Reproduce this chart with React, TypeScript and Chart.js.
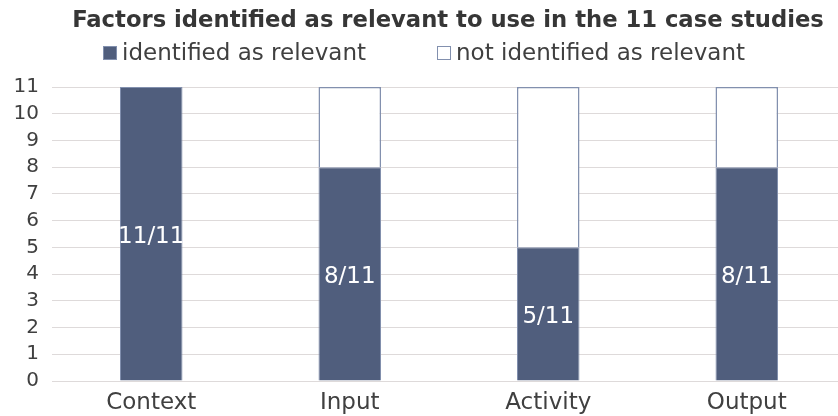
import React, { useEffect, useRef } from "react";
import { Chart, registerables } from "chart.js";

Chart.register(...registerables);

const titleText = "Factors identified as relevant to use in the 11 case studies";
const categories = ["Context", "Input", "Activity", "Output"];
const seriesNames = ["identified as relevant", "not identified as relevant"];
const identified = [11, 8, 5, 8];
const notIdentified = [0, 3, 6, 3];
const caseTotal = 11;
const yMax = 11;

const FONT = "'DejaVu Sans', Verdana, sans-serif";
const DARK = "#505e7d";
const EDGE = "#8290ae";
const TEXT = "#404040";

const headerPlugin = {
  id: "header",
  afterDraw(chart: any) {
    const ctx = chart.ctx;
    const ca = chart.chartArea;
    ctx.save();
    // title
    ctx.font = `bold 22.7px ${FONT}`;
    ctx.fillStyle = "#363636";
    ctx.textAlign = "center";
    ctx.textBaseline = "middle";
    ctx.fillText(titleText, (ca.left + ca.right) / 2 - 1, 21);
    // legend
    ctx.font = `23px ${FONT}`;
    const box = 14;
    const gapBox = 5;
    const gapItem = 71;
    const w0 = ctx.measureText(seriesNames[0]).width;
    const w1 = ctx.measureText(seriesNames[1]).width;
    const total = box + gapBox + w0 + gapItem + box + gapBox + w1;
    let x = 838 / 2 + 5 - total / 2;
    const cy = 53;
    const fills = [DARK, "#ffffff"];
    const widths = [w0, w1];
    ctx.textAlign = "left";
    for (let i = 0; i < 2; i++) {
      ctx.fillStyle = fills[i];
      ctx.fillRect(x, cy - box / 2, box, box);
      ctx.strokeStyle = EDGE;
      ctx.lineWidth = 1;
      ctx.strokeRect(x + 0.5, cy - box / 2 + 0.5, box - 1, box - 1);
      ctx.fillStyle = TEXT;
      ctx.fillText(seriesNames[i], x + box + gapBox, cy + 1);
      x += box + gapBox + widths[i] + gapItem;
    }
    ctx.restore();
  },
};

const valueLabelPlugin = {
  id: "valueLabels",
  afterDatasetsDraw(chart: any) {
    const ctx = chart.ctx;
    const meta = chart.getDatasetMeta(0);
    ctx.save();
    ctx.font = `23px ${FONT}`;
    ctx.fillStyle = "#ffffff";
    ctx.textAlign = "center";
    ctx.textBaseline = "middle";
    meta.data.forEach((bar: any, i: number) => {
      const v = identified[i];
      const cy = (bar.y + bar.base) / 2;
      ctx.fillText(`${v}/${caseTotal}`, bar.x, cy + 3);
    });
    ctx.restore();
  },
};

export default function App() {
  const ref = useRef<HTMLCanvasElement | null>(null);
  useEffect(() => {
    if (!ref.current) return;
    const chart = new Chart(ref.current, {
      type: "bar",
      data: {
        labels: categories,
        datasets: [
          {
            label: seriesNames[0],
            data: identified,
            backgroundColor: DARK,
            borderColor: EDGE,
            borderWidth: 1,
            barPercentage: 0.315,
            categoryPercentage: 1,
          },
          {
            label: seriesNames[1],
            data: notIdentified,
            backgroundColor: "#ffffff",
            borderColor: EDGE,
            borderWidth: 1.5,
            barPercentage: 0.315,
            categoryPercentage: 1,
          },
        ],
      },
      options: {
        responsive: false,
        animation: false,
        layout: { padding: { top: 87, left: 0, right: 0, bottom: 0 } },
        plugins: {
          legend: { display: false },
          title: { display: false },
          tooltip: { enabled: false },
        },
        scales: {
          x: {
            stacked: true,
            grid: { display: false, drawTicks: false },
            border: { display: false },
            ticks: {
              color: TEXT,
              font: { family: FONT, size: 23 },
              padding: 8,
            },
            afterFit(scale: any) {
              scale.height = 35;
            },
          },
          y: {
            stacked: true,
            min: 0,
            max: yMax,
            grid: { color: "#dedada", lineWidth: 1, drawTicks: false },
            border: { display: false },
            ticks: {
              stepSize: 1,
              autoSkip: false,
              color: TEXT,
              font: { family: FONT, size: 20 },
              padding: 13,
            },
            afterFit(scale: any) {
              scale.width = 52;
            },
          },
        },
      },
      plugins: [headerPlugin, valueLabelPlugin],
    });
    return () => chart.destroy();
  }, []);
  return (
    <div
      style={{
        position: "fixed",
        left: 0,
        top: 0,
        width: 838,
        height: 416,
        overflow: "hidden",
        background: "#ffffff",
      }}
    >
      <canvas ref={ref} width={846} height={416} style={{ width: 846, height: 416, display: "block" }} />
    </div>
  );
}
